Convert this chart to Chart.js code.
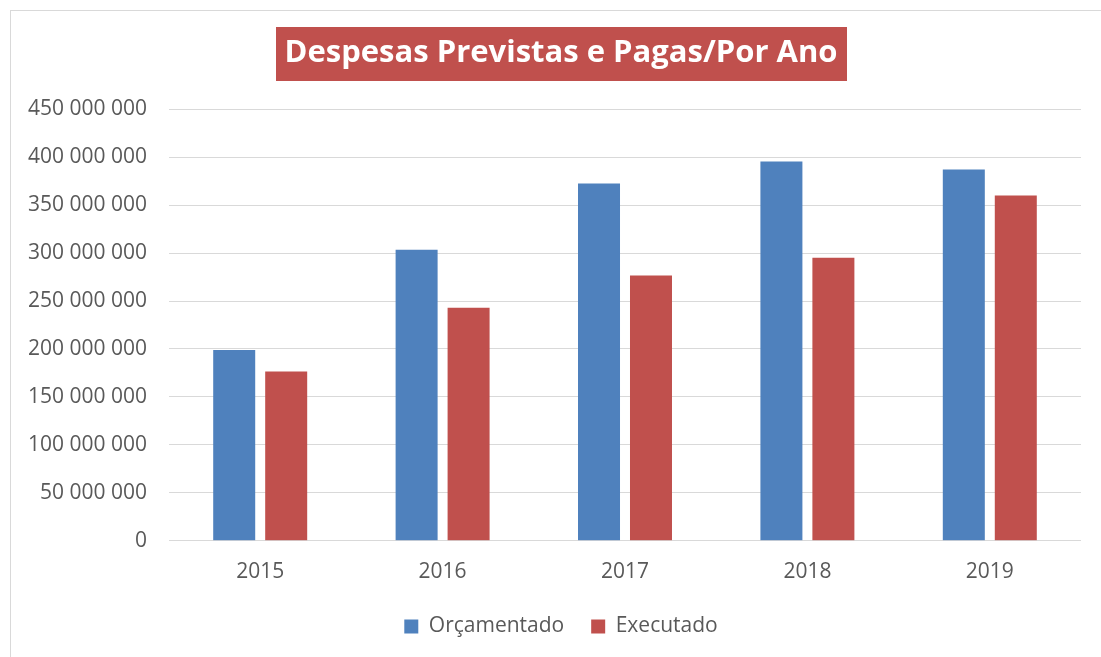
<!DOCTYPE html>
<html>
<head>
<meta charset="utf-8">
<script src="https://cdn.jsdelivr.net/npm/chart.js@4/dist/chart.umd.min.js"></script>
<style>
  html, body { margin: 0; padding: 0; background: #fff; overflow: hidden; }
  #wrap {
    position: absolute; left: 10px; top: 10px;
    width: 1100px; height: 660px;
    border-top: 1px solid #d9d9d9; border-left: 1px solid #d9d9d9;
  }
  #chart { display: block; }
</style>
</head>
<body>
<div id="wrap"><canvas id="chart" width="1100" height="660"></canvas></div>
<script>
const years = ['2015', '2016', '2017', '2018', '2019']
const orcamentado = [199000000, 303500000, 372500000, 395500000, 387000000]
const executado = [176500000, 243000000, 276500000, 295000000, 360000000]

const textGray = '#595959'
const gridGray = '#d9d9d9'
const fontFamily = '"Open Sans", sans-serif'
const titleFont = { family: fontFamily, size: 31, weight: 'bold', lineHeight: 1.2 }
const tickFont = { family: fontFamily, size: 21 }

function spaced(v) {
  return String(v).replace(/\B(?=(\d{3})+(?!\d))/g, ' ')
}

// title and legend are centred on the whole canvas, not on the padded area
const centerBoxes = {
  id: 'centerBoxes',
  afterLayout(chart) {
    [chart.titleBlock, chart.legend].forEach((box) => {
      box.left = 0
      box.right = chart.width
      box.width = chart.width
    })
  }
}

// red box behind the title
const titleBox = {
  id: 'titleBox',
  beforeDraw(chart) {
    const tb = chart.titleBlock
    const ctx = chart.ctx
    const text = chart.options.plugins.title.text
    ctx.save()
    ctx.font = 'bold 31px ' + fontFamily
    const w = ctx.measureText(text).width + 18
    const cx = (tb.left + tb.right) / 2
    const cy = tb.top + tb._padding.top + titleFont.size * titleFont.lineHeight / 2
    ctx.fillStyle = '#c0504d'
    ctx.fillRect(Math.round(cx - w / 2), Math.round(cy - 27), Math.round(w), 54)
    ctx.restore()
  }
}

new Chart(document.getElementById('chart'), {
  type: 'bar',
  data: {
    labels: years,
    datasets: [{
      label: 'Orçamentado',
      data: orcamentado,
      backgroundColor: '#4f81bd',
      borderWidth: 0
    }, {
      label: 'Executado',
      data: executado,
      backgroundColor: '#c0504d',
      borderWidth: 0
    }]
  },
  options: {
    responsive: false,
    animation: false,
    categoryPercentage: 0.57,
    barPercentage: 0.808,
    layout: { padding: { left: 0, right: 30, top: 0, bottom: 24 } },
    plugins: {
      title: {
        display: true,
        text: 'Despesas Previstas e Pagas/Por Ano',
        color: '#ffffff',
        font: titleFont,
        padding: { top: 24, bottom: 37 }
      },
      legend: {
        position: 'bottom',
        labels: {
          color: textGray,
          font: tickFont,
          boxWidth: 14,
          boxHeight: 14,
          padding: 27
        }
      },
      tooltip: { enabled: false }
    },
    scales: {
      x: {
        grid: { display: false },
        border: { display: false },
        ticks: {
          color: textGray,
          font: tickFont,
          padding: 11
        },
        afterFit(scale) { scale.height -= 7 }
      },
      y: {
        min: 0,
        max: 450000000,
        border: { display: false },
        grid: { color: gridGray, lineWidth: 1, drawTicks: false },
        ticks: {
          stepSize: 50000000,
          color: textGray,
          font: tickFont,
          padding: 22,
          callback: (v) => spaced(v)
        },
        afterFit(scale) { scale.width = 158 }
      }
    }
  },
  plugins: [centerBoxes, titleBox]
})
</script>
</body>
</html>
